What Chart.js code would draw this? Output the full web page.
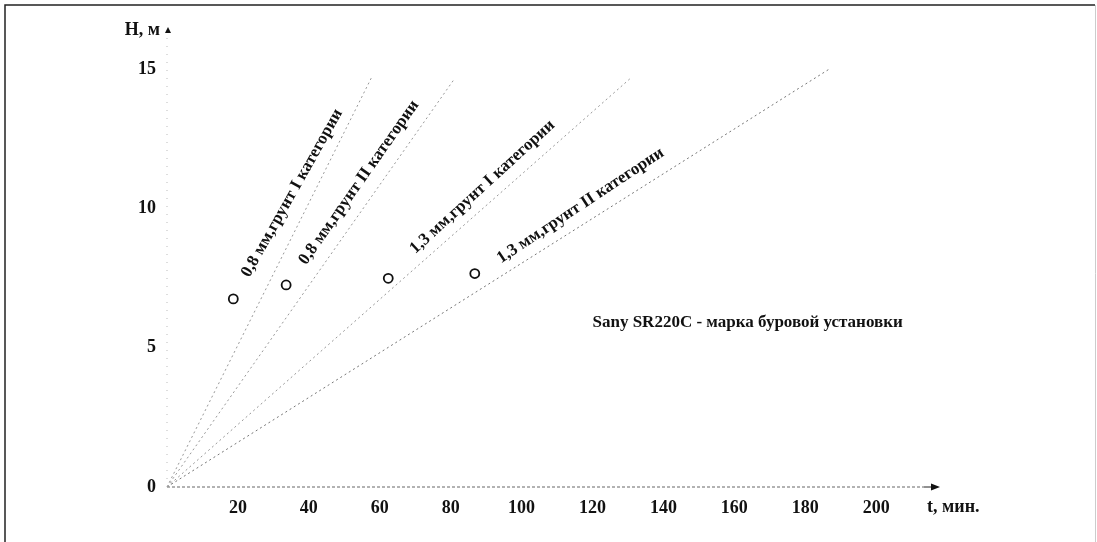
<!DOCTYPE html>
<html>
<head>
<meta charset="utf-8">
<script src="https://cdn.jsdelivr.net/npm/chart.js@4.4.1/dist/chart.umd.min.js"></script>
<style>
  html, body { margin: 0; padding: 0; background: #fff; }
  #wrap { width: 1097px; height: 542px; }
</style>
</head>
<body>
<div id="wrap"><canvas id="chart" width="1097" height="542"></canvas></div>
<script>
// t, мин. - время бурения, H, м - глубина скважины
var xTicks = [20, 40, 60, 80, 100, 120, 140, 160, 180, 200];
var yTicks = [0, 5, 10, 15];

var seriesNames = [
  "0,8 мм,грунт I категории",
  "0,8 мм,грунт II категории",
  "1,3 мм,грунт I категории",
  "1,3 мм,грунт II категории"
];
// every line starts at the origin and ends here
var lineEndT = [57.7, 80.8, 131, 186.8];
var lineEndH = [14.7, 14.6, 14.7, 15.0];

// small circles in front of each caption
var markT = [18.7, 33.6, 62.4, 86.8];
var markH = [6.75, 7.25, 7.49, 7.66];

var note = "Sany SR220C - марка буровой установки";

// where the rotated captions sit (data units) and their angle in degrees
var captionPlace = [
  { t: 23.2, h: 7.5, angle: 60.6 },
  { t: 39.2, h: 7.95, angle: 54.9 },
  { t: 70.0, h: 8.35, angle: 42.4 },
  { t: 94.2, h: 8.02, angle: 33.5 }
];
var notePlace = { t: 120, h: 5.75 };

var SERIF = "'Liberation Serif', 'DejaVu Serif', serif";

var lineSets = seriesNames.map(function (name, i) {
  return {
    label: name,
    data: [{ x: 0, y: 0 }, { x: lineEndT[i], y: lineEndH[i] }],
    showLine: true,
    pointRadius: 0,
    borderColor: i == 3 ? "#777" : "#999",
    borderWidth: 1,
    borderDash: [2, 3]
  };
});

var markSet = {
  label: "marks",
  data: markT.map(function (t, i) { return { x: t, y: markH[i] }; }),
  showLine: false,
  pointRadius: 4.5,
  pointBorderWidth: 1.8,
  pointBorderColor: "#111",
  pointBackgroundColor: "#fff"
};

var sketchPlugin = {
  id: "sketch",
  beforeDraw: function (chart) {
    var ctx = chart.ctx;
    ctx.save();
    ctx.fillStyle = "#fff";
    ctx.fillRect(0, 0, chart.width, chart.height);
    // frame of the scanned page
    ctx.strokeStyle = "#222";
    ctx.lineWidth = 1.5;
    ctx.beginPath();
    ctx.moveTo(5, chart.height);
    ctx.lineTo(5, 5);
    ctx.lineTo(chart.width - 2, 5);
    ctx.stroke();
    ctx.strokeStyle = "#ccc";
    ctx.lineWidth = 1;
    ctx.beginPath();
    ctx.moveTo(chart.width - 1.5, 5);
    ctx.lineTo(chart.width - 1.5, chart.height);
    ctx.stroke();
    ctx.restore();
  },
  afterDatasetsDraw: function (chart) {
    var ctx = chart.ctx;
    var xs = chart.scales.x, ys = chart.scales.y;
    var x0 = xs.getPixelForValue(0), y0 = ys.getPixelForValue(0);
    var area = chart.chartArea;
    ctx.save();

    // x axis: dotted, with arrow
    ctx.strokeStyle = "#666";
    ctx.lineWidth = 1;
    ctx.setLineDash([3, 2]);
    ctx.beginPath();
    ctx.moveTo(x0, y0);
    ctx.lineTo(area.right - 16, y0);
    ctx.stroke();
    ctx.setLineDash([]);
    ctx.strokeStyle = "#222";
    ctx.beginPath();
    ctx.moveTo(area.right - 16, y0);
    ctx.lineTo(area.right - 6, y0);
    ctx.stroke();
    ctx.fillStyle = "#111";
    ctx.beginPath();
    ctx.moveTo(area.right, y0);
    ctx.lineTo(area.right - 9, y0 - 3.5);
    ctx.lineTo(area.right - 9, y0 + 3.5);
    ctx.closePath();
    ctx.fill();

    // y axis: faint dots, small arrow at the top
    ctx.strokeStyle = "#bbb";
    ctx.setLineDash([1, 7]);
    ctx.beginPath();
    ctx.moveTo(x0, y0);
    ctx.lineTo(x0, area.top + 6);
    ctx.stroke();
    ctx.setLineDash([]);
    ctx.fillStyle = "#111";
    ctx.beginPath();
    ctx.moveTo(x0 + 1, area.top - 3);
    ctx.lineTo(x0 - 2, area.top + 3);
    ctx.lineTo(x0 + 4, area.top + 3);
    ctx.closePath();
    ctx.fill();

    // axis names
    ctx.fillStyle = "#111";
    ctx.font = "bold 18px " + SERIF;
    ctx.textBaseline = "middle";
    ctx.textAlign = "right";
    ctx.fillText("H, м", x0 - 7, area.top);
    ctx.textAlign = "left";
    ctx.fillText("t, мин.", area.right - 13, y0 + 20);

    // rotated captions along the lines
    ctx.font = "bold 17px " + SERIF;
    ctx.textBaseline = "alphabetic";
    captionPlace.forEach(function (p, i) {
      ctx.save();
      ctx.translate(xs.getPixelForValue(p.t), ys.getPixelForValue(p.h));
      ctx.rotate(-p.angle * Math.PI / 180);
      ctx.fillText(seriesNames[i], 0, 0);
      ctx.restore();
    });

    // rig note
    ctx.font = "bold 17px " + SERIF;
    ctx.fillText(note, xs.getPixelForValue(notePlace.t), ys.getPixelForValue(notePlace.h));
    ctx.restore();
  }
};

var ctx = document.getElementById("chart").getContext("2d");
var chart = new Chart(ctx, {
  type: "scatter",
  data: { datasets: lineSets.concat([markSet]) },
  plugins: [sketchPlugin],
  options: {
    responsive: false,
    animation: false,
    layout: { padding: { top: 30, right: 157, left: 0, bottom: 0 } },
    plugins: { legend: { display: false }, tooltip: { enabled: false } },
    scales: {
      x: {
        type: "linear",
        min: 0,
        max: 218,
        afterBuildTicks: function (scale) {
          scale.ticks = xTicks.map(function (v) { return { value: v }; });
        },
        afterFit: function (scale) { scale.height = 55; },
        grid: { display: false, drawTicks: false },
        border: { display: false },
        ticks: {
          autoSkip: false,
          maxRotation: 0,
          padding: 11,
          color: "#111",
          font: { family: SERIF, size: 18, weight: "bold" }
        }
      },
      y: {
        type: "linear",
        min: 0,
        max: 16.4,
        afterBuildTicks: function (scale) {
          scale.ticks = yTicks.map(function (v) { return { value: v }; });
        },
        afterFit: function (scale) { scale.width = 167; },
        grid: { display: false, drawTicks: false },
        border: { display: false },
        ticks: {
          autoSkip: false,
          padding: 11,
          color: "#111",
          font: { family: SERIF, size: 18, weight: "bold" }
        }
      }
    }
  }
});
</script>
</body>
</html>
